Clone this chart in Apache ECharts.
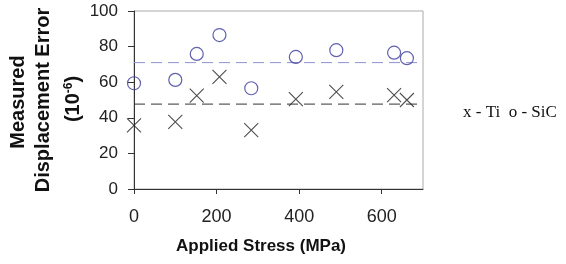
<!DOCTYPE html>
<html style="height: 100%">
  <head>
    <meta charset="utf-8" />
  </head>
  <body style="height: 100%; margin: 0; background: #fff">
    <div id="container" style="width: 566px; height: 264px"></div>

    <script src="https://cdn.jsdelivr.net/npm/echarts@6/dist/echarts.min.js"></script>
    <script type="text/javascript">
      var stress = [0, 100, 152, 207, 284, 392, 490, 630, 661];
      var sicError = [59.4, 61.3, 75.9, 86.5, 56.6, 74.2, 78, 76.6, 73.5];
      var tiError = [35.7, 37.7, 52.5, 63, 33.1, 50.5, 54.6, 52.7, 50];
      var sicMean = [71];
      var tiMean = [47.7];
      var xTicks = [0, 200, 400, 600];
      var yTicks = [0, 20, 40, 60, 80, 100];

      function pairs(xs, ys) {
        var out = [];
        for (var i = 0; i < xs.length; i++) {
          out.push([xs[i], ys[i]]);
        }
        return out;
      }

      var dom = document.getElementById("container");
      var myChart = echarts.init(dom);

      var titleFont = {
        fontFamily: "Liberation Sans",
        fontWeight: "bold",
        fontSize: 20,
        fill: "#111",
        align: "center",
        verticalAlign: "middle",
      };

      var option = {
        animation: false,
        grid: {
          left: 134,
          top: 11,
          right: 143,
          bottom: 75,
          show: true,
          borderColor: "#aaa",
          borderWidth: 1,
        },
        xAxis: {
          type: "value",
          min: 0,
          max: 700,
          interval: 200,
          axisLine: { lineStyle: { color: "#333", width: 1 } },
          axisTick: { length: 5, lineStyle: { color: "#333" } },
          splitLine: { show: false },
          axisLabel: {
            margin: 19,
            color: "#222",
            fontFamily: "Liberation Sans",
            fontSize: 18,
            showMaxLabel: false,
            formatter: function (v) {
              return xTicks.indexOf(v) >= 0 ? String(v) : "";
            },
          },
        },
        yAxis: {
          type: "value",
          min: 0,
          max: 100,
          interval: 20,
          axisLine: { show: true, lineStyle: { color: "#333", width: 1 } },
          axisTick: { show: true, length: 6, lineStyle: { color: "#333" } },
          splitLine: { show: false },
          axisLabel: {
            margin: 16,
            color: "#222",
            fontFamily: "Liberation Sans",
            fontSize: 17,
            formatter: function (v) {
              return yTicks.indexOf(v) >= 0 ? String(v) : "";
            },
          },
        },
        series: [
          {
            type: "line",
            data: [
              [0, sicMean[0]],
              [700, sicMean[0]],
            ],
            symbol: "none",
            lineStyle: { color: "#9090d0", width: 1, type: [11, 6] },
            z: 1,
          },
          {
            type: "line",
            data: [
              [0, tiMean[0]],
              [700, tiMean[0]],
            ],
            symbol: "none",
            lineStyle: { color: "#333", width: 1, type: [11, 6] },
            z: 1,
          },
          {
            type: "scatter",
            data: pairs(stress, sicError),
            symbol: "circle",
            symbolSize: 13,
            itemStyle: {
              color: "rgba(255,255,255,0)",
              borderColor: "#3a3a9a",
              borderWidth: 1.2,
            },
            z: 3,
          },
          {
            type: "scatter",
            data: pairs(stress, tiError),
            symbol: "path://M0,0L10,10M10,0L0,10",
            symbolSize: 14,
            itemStyle: {
              color: "rgba(255,255,255,0)",
              borderColor: "#222",
              borderWidth: 1.1,
            },
            z: 3,
          },
        ],
        graphic: [
          {
            type: "text",
            x: 261,
            y: 246,
            style: Object.assign({}, titleFont, {
              text: "Applied Stress (MPa)",
              fontSize: 17,
            }),
          },
          {
            type: "text",
            x: 18,
            y: 102,
            rotation: Math.PI / 2,
            style: Object.assign({}, titleFont, { text: "Measured" }),
          },
          {
            type: "text",
            x: 43,
            y: 100,
            rotation: Math.PI / 2,
            style: Object.assign({}, titleFont, { text: "Displacement Error" }),
          },
          {
            type: "text",
            x: 73,
            y: 99,
            rotation: Math.PI / 2,
            style: Object.assign({}, titleFont, {
              text: "(10{s|-6})",
              rich: {
                s: {
                  fontFamily: "Liberation Sans",
                  fontWeight: "bold",
                  fontSize: 12,
                  fill: "#111",
                  verticalAlign: "top",
                  padding: [0, 0, 9, 0],
                },
              },
            }),
          },
          {
            type: "text",
            x: 463,
            y: 113,
            style: {
              text: "x - Ti  o - SiC",
              fontFamily: "Liberation Serif",
              fontSize: 17,
              fill: "#111",
              align: "left",
              verticalAlign: "middle",
            },
          },
        ],
      };

      myChart.setOption(option);
    </script>
  </body>
</html>
